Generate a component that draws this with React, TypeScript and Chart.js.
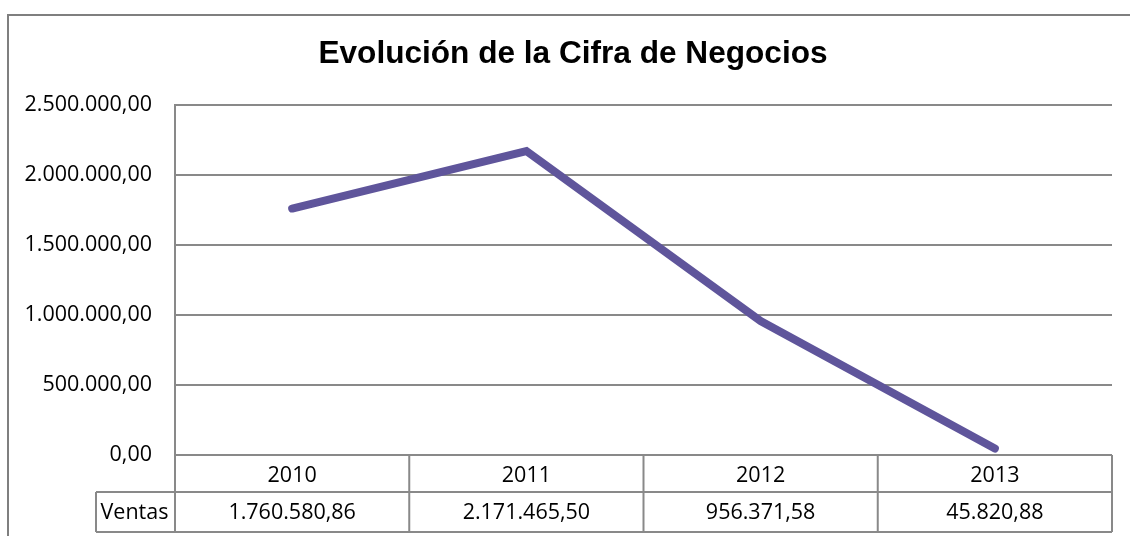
import React, { useEffect, useRef } from "react";
import { Chart, registerables } from "chart.js";

Chart.register(...registerables);

const title = "Evolución de la Cifra de Negocios";
const categories = ["2010", "2011", "2012", "2013"];
const seriesName = "Ventas";
const ventas = [1760580.86, 2171465.5, 956371.58, 45820.88];
const yTicks = [0, 500000, 1000000, 1500000, 2000000, 2500000];

const fmt = (v: number) => {
  const fixed = Math.abs(v).toFixed(2);
  const [intPart, dec] = fixed.split(".");
  const grouped = intPart.replace(/\B(?=(\d{3})+(?!\d))/g, ".");
  return (v < 0 ? "-" : "") + grouped + "," + dec;
};

const GRID = "#898989";
const LINE = "#5f559b";
const TEXT_FONT = '21.5px "Open Sans"';

const decorPlugin = {
  id: "decor",
  beforeDraw(chart: any) {
    const ctx = chart.ctx;
    ctx.save();
    ctx.fillStyle = "#ffffff";
    ctx.fillRect(0, 0, chart.width, chart.height);
    ctx.strokeStyle = "#7f7f7f";
    ctx.lineWidth = 2;
    ctx.strokeRect(8, 15, chart.width + 20, chart.height + 20);
    ctx.restore();
  },
  afterDatasetsDraw(chart: any) {
    const ctx = chart.ctx;
    const area = chart.chartArea;
    const xs = chart.scales.x;
    const n = categories.length;
    const left = area.left;
    const right = area.right;
    const colW = (right - left) / n;
    const top = area.bottom;
    const mid = top + 37;
    const bottom = top + 77;
    const labelLeft = 96;

    ctx.save();
    ctx.strokeStyle = GRID;
    ctx.lineWidth = 2;
    ctx.beginPath();
    ctx.moveTo(left, top);
    ctx.lineTo(right, top);
    ctx.moveTo(labelLeft, mid);
    ctx.lineTo(right, mid);
    ctx.moveTo(labelLeft, bottom);
    ctx.lineTo(right, bottom);
    for (let i = 0; i <= n; i++) {
      const x = left + i * colW;
      ctx.moveTo(x, top);
      ctx.lineTo(x, bottom);
    }
    ctx.moveTo(labelLeft, mid);
    ctx.lineTo(labelLeft, bottom);
    ctx.stroke();

    ctx.fillStyle = "#000000";
    ctx.font = TEXT_FONT;
    ctx.textAlign = "center";
    ctx.textBaseline = "middle";
    categories.forEach((c, i) => {
      const x = xs.getPixelForValue(i);
      ctx.fillText(c, x, (top + mid) / 2 + 2);
      ctx.fillText(fmt(ventas[i]), x, (mid + bottom) / 2 + 1);
    });
    ctx.fillText(seriesName, (labelLeft + left) / 2 - 1, (mid + bottom) / 2 + 1);

    ctx.font = 'bold 31.6px "Liberation Sans", Arial, sans-serif';
    ctx.textBaseline = "alphabetic";
    ctx.fillText(title, 573, 63);
    ctx.restore();
  },
};

export default function App() {
  const ref = useRef<HTMLCanvasElement | null>(null);

  useEffect(() => {
    if (!ref.current) return;
    const chart = new Chart(ref.current, {
      type: "line",
      data: {
        labels: categories,
        datasets: [
          {
            label: seriesName,
            data: ventas,
            borderColor: LINE,
            backgroundColor: LINE,
            borderWidth: 8,
            borderCapStyle: "round",
            borderJoinStyle: "miter",
            pointRadius: 0,
            tension: 0,
            fill: false,
          },
        ],
      },
      options: {
        responsive: false,
        animation: false,
        layout: { padding: { left: 0, top: 105, right: 18, bottom: 81 } },
        plugins: {
          legend: { display: false },
          tooltip: { enabled: false },
          title: { display: false },
        },
        scales: {
          x: {
            type: "category",
            display: false,
            offset: true,
          },
          y: {
            min: 0,
            max: 2500000,
            afterFit: (scale: any) => {
              scale.width = 175;
            },
            afterBuildTicks: (scale: any) => {
              scale.ticks = yTicks.map((v) => ({ value: v }));
            },
            ticks: {
              callback: (v: any) => fmt(Number(v)),
              font: { family: "Open Sans", size: 21.5 },
              color: "#000000",
              padding: 23,
            },
            grid: {
              color: GRID,
              lineWidth: 2,
              drawTicks: false,
            },
            border: { display: true, color: GRID, width: 2 },
          },
        },
      },
      plugins: [decorPlugin],
    });
    return () => chart.destroy();
  }, []);

  return (
    <div style={{ position: "absolute", left: 0, top: 0, width: 1130, height: 536 }}>
      <canvas ref={ref} width={1130} height={536} style={{ display: "block" }} />
    </div>
  );
}
